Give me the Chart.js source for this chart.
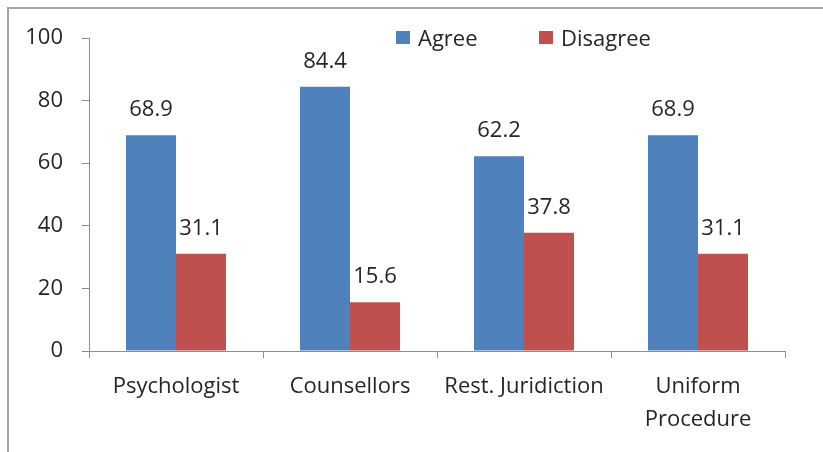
<!DOCTYPE html>
<html>
<head>
<meta charset="utf-8">
<script src="https://cdn.jsdelivr.net/npm/chart.js@4"></script>
<style>
  body { margin: 0; background: #fff; }
  #wrap { position: relative; width: 823px; height: 452px; overflow: hidden; }
  #frame { position: absolute; left: 7px; top: 7px; width: 900px; height: 600px;
           border-top: 2px solid #a6a6a6; border-left: 2px solid #a6a6a6; }
  canvas { position: absolute; left: 0; top: 0; }
</style>
</head>
<body>
<div id="wrap">
  <div id="frame"></div>
  <canvas id="chart" width="823" height="452"></canvas>
</div>
<script>
const categories = ["Psychologist", "Counsellors", "Rest. Juridiction", ["Uniform", "Procedure"]];
const agree = [68.9, 84.4, 62.2, 68.9];
const disagree = [31.1, 15.6, 37.8, 31.1];
const yTicks = [0, 20, 40, 60, 80, 100];

const FONT = "'Open Sans', sans-serif";
const TEXT = "#262626";
const AXIS = "#8e8e8e";

// value labels above each bar
const valueLabels = {
  id: "valueLabels",
  afterDatasetsDraw(chart) {
    const ctx = chart.ctx;
    ctx.save();
    ctx.font = "22px " + FONT;
    ctx.fillStyle = TEXT;
    ctx.textAlign = "center";
    ctx.textBaseline = "alphabetic";
    chart.data.datasets.forEach((ds, i) => {
      chart.getDatasetMeta(i).data.forEach((bar, j) => {
        ctx.fillText(ds.data[j].toFixed(1), bar.x, bar.y - 19);
      });
    });
    ctx.restore();
  }
};

// legend drawn in the top right like the original
const topLegend = {
  id: "topLegend",
  afterDraw(chart) {
    const ctx = chart.ctx;
    const spots = [396, 539];
    ctx.save();
    ctx.font = "22px " + FONT;
    ctx.textBaseline = "alphabetic";
    chart.data.datasets.forEach((ds, i) => {
      const x = spots[i];
      ctx.fillStyle = ds.backgroundColor;
      ctx.fillRect(x, 31, 14, 13);
      ctx.fillStyle = TEXT;
      ctx.fillText(ds.label, x + 22, 46);
    });
    ctx.restore();
  }
};

new Chart(document.getElementById("chart"), {
  type: "bar",
  data: {
    labels: categories,
    datasets: [
      { label: "Agree", data: agree, backgroundColor: "#4F81BD" },
      { label: "Disagree", data: disagree, backgroundColor: "#C0504D" }
    ]
  },
  options: {
    responsive: false,
    animation: false,
    layout: { padding: { top: 38, right: 38, left: 0, bottom: 0 } },
    datasets: { bar: { categoryPercentage: 0.575, barPercentage: 1 } },
    plugins: {
      legend: { display: false },
      tooltip: { enabled: false }
    },
    scales: {
      x: {
        offset: true,
        grid: { offset: true, drawOnChartArea: false, drawTicks: true, tickLength: 7, color: AXIS },
        border: { display: true, color: AXIS, width: 1 },
        ticks: { color: TEXT, font: { family: FONT, size: 22, lineHeight: 1.5 }, padding: 12, maxRotation: 0, autoSkip: false },
        afterFit(scale) { scale.height = 101; }
      },
      y: {
        min: 0,
        max: 100,
        afterBuildTicks(scale) { scale.ticks = yTicks.map(v => ({ value: v })); },
        grid: { drawOnChartArea: false, drawTicks: true, tickLength: 7, color: AXIS },
        border: { display: true, color: AXIS, width: 1 },
        ticks: { color: TEXT, font: { family: FONT, size: 22 }, padding: 19 },
        afterFit(scale) { scale.width = 89; }
      }
    }
  },
  plugins: [valueLabels, topLegend]
});
</script>
</body>
</html>
